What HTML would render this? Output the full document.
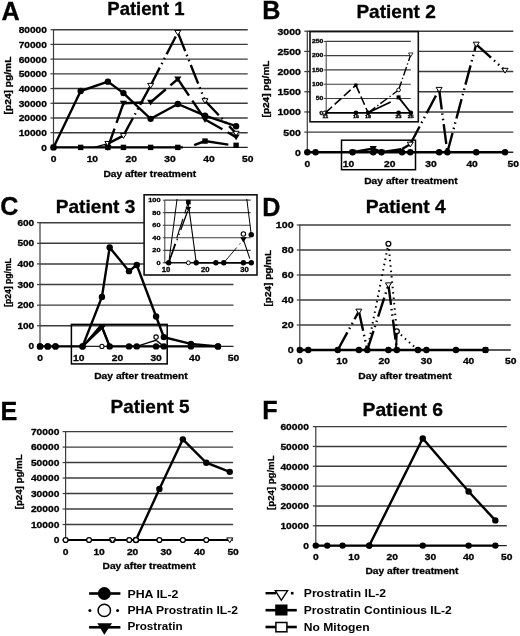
<!DOCTYPE html>
<html><head><meta charset="utf-8"><style>
html,body{margin:0;padding:0;background:#fff;}
svg{display:block;font-family:"Liberation Sans", sans-serif;font-weight:bold;will-change:transform;}
text{stroke:#000;stroke-width:0.3px;}
text.lg{stroke:none;}
</style></head><body>
<svg width="520" height="636" viewBox="0 0 520 636">
<rect width="520" height="636" fill="#fff"/>
<text x="1.6" y="19.6" font-size="25.2" text-anchor="start">A</text>
<text x="262.2" y="18.5" font-size="25.2" text-anchor="start">B</text>
<text x="0.3" y="215" font-size="25.2" text-anchor="start">C</text>
<text x="262.2" y="215.5" font-size="25.2" text-anchor="start">D</text>
<text x="0.6" y="419.6" font-size="25.2" text-anchor="start">E</text>
<text x="262.2" y="418.8" font-size="25.2" text-anchor="start">F</text>
<text x="107.3" y="15.4" font-size="18.2" text-anchor="start" textLength="77.2" lengthAdjust="spacingAndGlyphs">Patient 1</text>
<text x="356.4" y="18" font-size="18.2" text-anchor="start" textLength="79.4" lengthAdjust="spacingAndGlyphs">Patient 2</text>
<text x="55.8" y="212.7" font-size="18.2" text-anchor="start" textLength="79.5" lengthAdjust="spacingAndGlyphs">Patient 3</text>
<text x="365.7" y="213" font-size="18.2" text-anchor="start" textLength="80.1" lengthAdjust="spacingAndGlyphs">Patient 4</text>
<text x="110.6" y="413" font-size="18.2" text-anchor="start" textLength="79" lengthAdjust="spacingAndGlyphs">Patient 5</text>
<text x="362.5" y="416" font-size="18.2" text-anchor="start" textLength="80.5" lengthAdjust="spacingAndGlyphs">Patient 6</text>
<line x1="50.5" y1="147.4" x2="53.5" y2="147.4" stroke="#3c3c3c" stroke-width="1.2"/>
<text transform="translate(46.9 150.8) scale(1.07 1)" font-size="9.5" text-anchor="end">0</text>
<line x1="53.5" y1="132.69" x2="247.75" y2="132.69" stroke="#3c3c3c" stroke-width="1.4"/>
<line x1="50.5" y1="132.69" x2="53.5" y2="132.69" stroke="#3c3c3c" stroke-width="1.2"/>
<text transform="translate(46.9 136.09) scale(1.07 1)" font-size="9.5" text-anchor="end">10000</text>
<line x1="53.5" y1="117.98" x2="247.75" y2="117.98" stroke="#3c3c3c" stroke-width="1.4"/>
<line x1="50.5" y1="117.98" x2="53.5" y2="117.98" stroke="#3c3c3c" stroke-width="1.2"/>
<text transform="translate(46.9 121.38) scale(1.07 1)" font-size="9.5" text-anchor="end">20000</text>
<line x1="53.5" y1="103.26" x2="247.75" y2="103.26" stroke="#3c3c3c" stroke-width="1.4"/>
<line x1="50.5" y1="103.26" x2="53.5" y2="103.26" stroke="#3c3c3c" stroke-width="1.2"/>
<text transform="translate(46.9 106.66) scale(1.07 1)" font-size="9.5" text-anchor="end">30000</text>
<line x1="53.5" y1="88.55" x2="247.75" y2="88.55" stroke="#3c3c3c" stroke-width="1.4"/>
<line x1="50.5" y1="88.55" x2="53.5" y2="88.55" stroke="#3c3c3c" stroke-width="1.2"/>
<text transform="translate(46.9 91.95) scale(1.07 1)" font-size="9.5" text-anchor="end">40000</text>
<line x1="53.5" y1="73.84" x2="247.75" y2="73.84" stroke="#3c3c3c" stroke-width="1.4"/>
<line x1="50.5" y1="73.84" x2="53.5" y2="73.84" stroke="#3c3c3c" stroke-width="1.2"/>
<text transform="translate(46.9 77.24) scale(1.07 1)" font-size="9.5" text-anchor="end">50000</text>
<line x1="53.5" y1="59.12" x2="247.75" y2="59.12" stroke="#3c3c3c" stroke-width="1.4"/>
<line x1="50.5" y1="59.12" x2="53.5" y2="59.12" stroke="#3c3c3c" stroke-width="1.2"/>
<text transform="translate(46.9 62.53) scale(1.07 1)" font-size="9.5" text-anchor="end">60000</text>
<line x1="53.5" y1="44.41" x2="247.75" y2="44.41" stroke="#3c3c3c" stroke-width="1.4"/>
<line x1="50.5" y1="44.41" x2="53.5" y2="44.41" stroke="#3c3c3c" stroke-width="1.2"/>
<text transform="translate(46.9 47.81) scale(1.07 1)" font-size="9.5" text-anchor="end">70000</text>
<line x1="53.5" y1="29.7" x2="247.75" y2="29.7" stroke="#3c3c3c" stroke-width="1.4"/>
<line x1="50.5" y1="29.7" x2="53.5" y2="29.7" stroke="#3c3c3c" stroke-width="1.2"/>
<text transform="translate(46.9 33.1) scale(1.07 1)" font-size="9.5" text-anchor="end">80000</text>
<line x1="53.5" y1="29.2" x2="53.5" y2="147.4" stroke="#3c3c3c" stroke-width="1.2"/>
<line x1="53.5" y1="147.4" x2="247.75" y2="147.4" stroke="#222" stroke-width="1.4"/>
<text transform="translate(53.5 162.4) scale(1.12 1)" font-size="9.2" text-anchor="middle">0</text>
<text transform="translate(92.35 162.4) scale(1.12 1)" font-size="9.2" text-anchor="middle">10</text>
<text transform="translate(131.2 162.4) scale(1.12 1)" font-size="9.2" text-anchor="middle">20</text>
<text transform="translate(170.05 162.4) scale(1.12 1)" font-size="9.2" text-anchor="middle">30</text>
<text transform="translate(208.9 162.4) scale(1.12 1)" font-size="9.2" text-anchor="middle">40</text>
<text transform="translate(247.75 162.4) scale(1.12 1)" font-size="9.2" text-anchor="middle">50</text>
<text transform="translate(10.8 85.5) rotate(-90)" font-size="8.9" text-anchor="middle" textLength="57.8" lengthAdjust="spacingAndGlyphs">[p24] pg/mL</text>
<text x="103.4" y="177" font-size="9.6" text-anchor="start" textLength="92.8" lengthAdjust="spacingAndGlyphs">Day after treatment</text>
<polyline points="53.5,147.4 80.69,147.4 107.89,147.4 123.43,147.4 150.62,147.4 177.82,147.4 182.87,147.4" fill="none" stroke="#000" stroke-width="2.4" stroke-linejoin="miter"/>
<rect x="50.8" y="144.7" width="5.4" height="5.4" fill="#000"/>
<rect x="77.99" y="144.7" width="5.4" height="5.4" fill="#000"/>
<rect x="105.19" y="144.7" width="5.4" height="5.4" fill="#000"/>
<rect x="120.73" y="144.7" width="5.4" height="5.4" fill="#000"/>
<rect x="147.93" y="144.7" width="5.4" height="5.4" fill="#000"/>
<rect x="175.12" y="144.7" width="5.4" height="5.4" fill="#000"/>
<polyline points="194.14,145.19 205.01,141.07 228.32,144.6" fill="none" stroke="#000" stroke-width="2.4" stroke-linejoin="miter"/>
<rect x="202.31" y="138.37" width="5.4" height="5.4" fill="#000"/>
<rect x="233.4" y="142.64" width="5.4" height="5.4" fill="#000"/>
<polyline points="53.5,147.4 80.69,91.05 107.89,81.64 123.43,93.11 150.62,118.86 177.82,104 205.01,115.62 236.09,126.21" fill="none" stroke="#000" stroke-width="2.4" stroke-linejoin="miter"/>
<circle cx="53.5" cy="147.4" r="3.2" fill="#000"/>
<circle cx="80.69" cy="91.05" r="3.2" fill="#000"/>
<circle cx="107.89" cy="81.64" r="3.2" fill="#000"/>
<circle cx="123.43" cy="93.11" r="3.2" fill="#000"/>
<circle cx="150.62" cy="118.86" r="3.2" fill="#000"/>
<circle cx="177.82" cy="104" r="3.2" fill="#000"/>
<circle cx="205.01" cy="115.62" r="3.2" fill="#000"/>
<circle cx="236.09" cy="126.21" r="3.2" fill="#000"/>
<line x1="94.29" y1="147.4" x2="107.89" y2="143.57" stroke="#000" stroke-width="1.2"/>
<polyline points="107.89,143.57 123.43,135.63" fill="none" stroke="#000" stroke-width="2.4" stroke-linejoin="miter" stroke-dasharray="20 4 1.5 4 1.5 4"/>
<polyline points="123.43,135.63 150.62,85.46" fill="none" stroke="#000" stroke-width="2.4" stroke-linejoin="miter" stroke-dasharray="20 4 1.5 4 1.5 4"/>
<polyline points="150.62,85.46 177.82,32.5" fill="none" stroke="#000" stroke-width="2.4" stroke-linejoin="miter" stroke-dasharray="20 4 1.5 4 1.5 4"/>
<polyline points="177.82,32.5 205.01,100.76" fill="none" stroke="#000" stroke-width="2.4" stroke-linejoin="miter" stroke-dasharray="20 4 1.5 4 1.5 4"/>
<polyline points="205.01,100.76 236.09,133.42" fill="none" stroke="#000" stroke-width="2.4" stroke-linejoin="miter" stroke-dasharray="20 4 1.5 4 1.5 4"/>
<polygon points="104.89,141.47 110.89,141.47 107.89,146.27" fill="#fff" stroke="#000" stroke-width="1"/>
<polygon points="120.43,133.53 126.43,133.53 123.43,138.33" fill="#fff" stroke="#000" stroke-width="1"/>
<polygon points="147.62,83.36 153.62,83.36 150.62,88.16" fill="#fff" stroke="#000" stroke-width="1"/>
<polygon points="174.82,30.4 180.82,30.4 177.82,35.2" fill="#fff" stroke="#000" stroke-width="1"/>
<polygon points="202.01,98.66 208.01,98.66 205.01,103.46" fill="#fff" stroke="#000" stroke-width="1"/>
<polygon points="233.09,131.32 239.09,131.32 236.09,136.12" fill="#fff" stroke="#000" stroke-width="1"/>
<polyline points="107.89,147.4 123.43,103.26" fill="none" stroke="#000" stroke-width="2.4" stroke-linejoin="miter" stroke-dasharray="20 6"/>
<polyline points="123.43,103.26 150.62,102.23" fill="none" stroke="#000" stroke-width="2.4" stroke-linejoin="miter" stroke-dasharray="20 6"/>
<polyline points="150.62,102.23 177.82,78.99" fill="none" stroke="#000" stroke-width="2.4" stroke-linejoin="miter" stroke-dasharray="20 6"/>
<polyline points="177.82,78.99 205.01,119.45" fill="none" stroke="#000" stroke-width="2.4" stroke-linejoin="miter" stroke-dasharray="20 6"/>
<polyline points="205.01,119.45 236.09,137.1" fill="none" stroke="#000" stroke-width="2.4" stroke-linejoin="miter" stroke-dasharray="20 6"/>
<polygon points="104.29,144.88 111.49,144.88 107.89,150.64" fill="#000"/>
<polygon points="119.83,100.74 127.03,100.74 123.43,106.5" fill="#000"/>
<polygon points="147.03,99.71 154.22,99.71 150.62,105.47" fill="#000"/>
<polygon points="174.22,76.47 181.42,76.47 177.82,82.23" fill="#000"/>
<polygon points="201.41,116.93 208.61,116.93 205.01,122.69" fill="#000"/>
<polygon points="232.5,134.58 239.69,134.58 236.09,140.34" fill="#000"/>
<line x1="304.3" y1="152.3" x2="307.3" y2="152.3" stroke="#3c3c3c" stroke-width="1.2"/>
<text transform="translate(300.9 155.7) scale(1.11 1)" font-size="9.5" text-anchor="end">0</text>
<line x1="307.3" y1="132.12" x2="513.3" y2="132.12" stroke="#3c3c3c" stroke-width="1.4"/>
<line x1="304.3" y1="132.12" x2="307.3" y2="132.12" stroke="#3c3c3c" stroke-width="1.2"/>
<text transform="translate(300.9 135.52) scale(1.11 1)" font-size="9.5" text-anchor="end">500</text>
<line x1="307.3" y1="111.93" x2="513.3" y2="111.93" stroke="#3c3c3c" stroke-width="1.4"/>
<line x1="304.3" y1="111.93" x2="307.3" y2="111.93" stroke="#3c3c3c" stroke-width="1.2"/>
<text transform="translate(300.9 115.33) scale(1.11 1)" font-size="9.5" text-anchor="end">1000</text>
<line x1="307.3" y1="91.75" x2="513.3" y2="91.75" stroke="#3c3c3c" stroke-width="1.4"/>
<line x1="304.3" y1="91.75" x2="307.3" y2="91.75" stroke="#3c3c3c" stroke-width="1.2"/>
<text transform="translate(300.9 95.15) scale(1.11 1)" font-size="9.5" text-anchor="end">1500</text>
<line x1="307.3" y1="71.57" x2="513.3" y2="71.57" stroke="#3c3c3c" stroke-width="1.4"/>
<line x1="304.3" y1="71.57" x2="307.3" y2="71.57" stroke="#3c3c3c" stroke-width="1.2"/>
<text transform="translate(300.9 74.97) scale(1.11 1)" font-size="9.5" text-anchor="end">2000</text>
<line x1="307.3" y1="51.38" x2="513.3" y2="51.38" stroke="#3c3c3c" stroke-width="1.4"/>
<line x1="304.3" y1="51.38" x2="307.3" y2="51.38" stroke="#3c3c3c" stroke-width="1.2"/>
<text transform="translate(300.9 54.78) scale(1.11 1)" font-size="9.5" text-anchor="end">2500</text>
<line x1="307.3" y1="31.2" x2="513.3" y2="31.2" stroke="#3c3c3c" stroke-width="1.4"/>
<line x1="304.3" y1="31.2" x2="307.3" y2="31.2" stroke="#3c3c3c" stroke-width="1.2"/>
<text transform="translate(300.9 34.6) scale(1.11 1)" font-size="9.5" text-anchor="end">3000</text>
<line x1="307.3" y1="30.7" x2="307.3" y2="152.3" stroke="#3c3c3c" stroke-width="1.2"/>
<line x1="307.3" y1="152.3" x2="513.3" y2="152.3" stroke="#222" stroke-width="1.4"/>
<text transform="translate(307.3 167.3) scale(1.12 1)" font-size="9.2" text-anchor="middle">0</text>
<text transform="translate(348.5 167.3) scale(1.12 1)" font-size="9.2" text-anchor="middle">10</text>
<text transform="translate(389.7 167.3) scale(1.12 1)" font-size="9.2" text-anchor="middle">20</text>
<text transform="translate(430.9 167.3) scale(1.12 1)" font-size="9.2" text-anchor="middle">30</text>
<text transform="translate(472.1 167.3) scale(1.12 1)" font-size="9.2" text-anchor="middle">40</text>
<text transform="translate(513.3 167.3) scale(1.12 1)" font-size="9.2" text-anchor="middle">50</text>
<text transform="translate(269.1 89) rotate(-90)" font-size="8.9" text-anchor="middle" textLength="56.9" lengthAdjust="spacingAndGlyphs">[p24] pg/mL</text>
<text x="364.2" y="184" font-size="9.6" text-anchor="start" textLength="93.6" lengthAdjust="spacingAndGlyphs">Day after treatment</text>
<polyline points="307.3,152.3 315.54,152.3 352.62,152.3 373.22,152.3 381.46,152.3 402.06,152.3 410.3,152.3 439.14,152.3 447.38,152.3 476.22,152.3 505.06,152.3" fill="none" stroke="#000" stroke-width="2.4" stroke-linejoin="miter"/>
<circle cx="307.3" cy="152.3" r="3.2" fill="#000"/>
<circle cx="315.54" cy="152.3" r="3.2" fill="#000"/>
<circle cx="352.62" cy="152.3" r="3.2" fill="#000"/>
<circle cx="373.22" cy="152.3" r="3.2" fill="#000"/>
<circle cx="381.46" cy="152.3" r="3.2" fill="#000"/>
<circle cx="402.06" cy="152.3" r="3.2" fill="#000"/>
<circle cx="410.3" cy="152.3" r="3.2" fill="#000"/>
<circle cx="439.14" cy="152.3" r="3.2" fill="#000"/>
<circle cx="447.38" cy="152.3" r="3.2" fill="#000"/>
<circle cx="476.22" cy="152.3" r="3.2" fill="#000"/>
<circle cx="505.06" cy="152.3" r="3.2" fill="#000"/>
<polyline points="352.62,152.3 373.22,148.47 381.46,152.3" fill="none" stroke="#000" stroke-width="2.4" stroke-linejoin="miter"/>
<polygon points="349.02,149.78 356.22,149.78 352.62,155.54" fill="#000"/>
<polygon points="369.62,145.95 376.82,145.95 373.22,151.71" fill="#000"/>
<polygon points="377.86,149.78 385.06,149.78 381.46,155.54" fill="#000"/>
<polyline points="381.46,152.3 402.06,149.07" fill="none" stroke="#000" stroke-width="2.4" stroke-linejoin="miter" stroke-dasharray="20 4 1.5 4 1.5 4"/>
<polyline points="402.06,149.07 410.3,144.23" fill="none" stroke="#000" stroke-width="2.4" stroke-linejoin="miter" stroke-dasharray="20 4 1.5 4 1.5 4"/>
<polyline points="410.3,144.23 439.14,89.49" fill="none" stroke="#000" stroke-width="2.4" stroke-linejoin="miter" stroke-dasharray="20 4 1.5 4 1.5 4"/>
<polyline points="439.14,89.49 447.38,152.3" fill="none" stroke="#000" stroke-width="2.4" stroke-linejoin="miter" stroke-dasharray="20 4 1.5 4 1.5 4"/>
<polyline points="447.38,152.3 476.22,44.28" fill="none" stroke="#000" stroke-width="2.4" stroke-linejoin="miter" stroke-dasharray="20 4 1.5 4 1.5 4"/>
<polyline points="476.22,44.28 505.06,70.4" fill="none" stroke="#000" stroke-width="2.4" stroke-linejoin="miter" stroke-dasharray="20 4 1.5 4 1.5 4"/>
<polygon points="407.3,142.13 413.3,142.13 410.3,146.93" fill="#fff" stroke="#000" stroke-width="1"/>
<polygon points="436.14,87.39 442.14,87.39 439.14,92.19" fill="#fff" stroke="#000" stroke-width="1"/>
<polygon points="473.22,42.18 479.22,42.18 476.22,46.98" fill="#fff" stroke="#000" stroke-width="1"/>
<polygon points="502.06,68.3 508.06,68.3 505.06,73.1" fill="#fff" stroke="#000" stroke-width="1"/>
<rect x="341.5" y="140.2" width="74" height="29.5" fill="none" stroke="#000" stroke-width="1.5"/>
<rect x="310" y="31.6" width="108.3" height="90.2" fill="#fff" stroke="#111" stroke-width="1.6"/>
<line x1="323.8" y1="112.8" x2="326.2" y2="112.8" stroke="#3c3c3c" stroke-width="1"/>
<text transform="translate(323.2 114.5) scale(1.4 1)" font-size="4.8" text-anchor="end">0</text>
<line x1="326.2" y1="98.52" x2="410.8" y2="98.52" stroke="#3c3c3c" stroke-width="1.2"/>
<line x1="323.8" y1="98.52" x2="326.2" y2="98.52" stroke="#3c3c3c" stroke-width="1"/>
<text transform="translate(323.2 100.22) scale(1.4 1)" font-size="4.8" text-anchor="end">50</text>
<line x1="326.2" y1="84.24" x2="410.8" y2="84.24" stroke="#3c3c3c" stroke-width="1.2"/>
<line x1="323.8" y1="84.24" x2="326.2" y2="84.24" stroke="#3c3c3c" stroke-width="1"/>
<text transform="translate(323.2 85.94) scale(1.4 1)" font-size="4.8" text-anchor="end">100</text>
<line x1="326.2" y1="69.96" x2="410.8" y2="69.96" stroke="#3c3c3c" stroke-width="1.2"/>
<line x1="323.8" y1="69.96" x2="326.2" y2="69.96" stroke="#3c3c3c" stroke-width="1"/>
<text transform="translate(323.2 71.66) scale(1.4 1)" font-size="4.8" text-anchor="end">150</text>
<line x1="326.2" y1="55.68" x2="410.8" y2="55.68" stroke="#3c3c3c" stroke-width="1.2"/>
<line x1="323.8" y1="55.68" x2="326.2" y2="55.68" stroke="#3c3c3c" stroke-width="1"/>
<text transform="translate(323.2 57.38) scale(1.4 1)" font-size="4.8" text-anchor="end">200</text>
<line x1="326.2" y1="41.4" x2="410.8" y2="41.4" stroke="#3c3c3c" stroke-width="1.2"/>
<line x1="323.8" y1="41.4" x2="326.2" y2="41.4" stroke="#3c3c3c" stroke-width="1"/>
<text transform="translate(323.2 43.1) scale(1.4 1)" font-size="4.8" text-anchor="end">250</text>
<line x1="326.2" y1="41.4" x2="326.2" y2="112.8" stroke="#3c3c3c" stroke-width="1"/>
<line x1="326.2" y1="112.8" x2="410.8" y2="112.8" stroke="#111" stroke-width="1.5"/>
<text transform="translate(325.4 118.4) scale(1.5 1)" font-size="3.6" text-anchor="middle">11</text>
<text transform="translate(355.9 118.4) scale(1.5 1)" font-size="3.6" text-anchor="middle">16</text>
<text transform="translate(368.1 118.4) scale(1.5 1)" font-size="3.6" text-anchor="middle">18</text>
<text transform="translate(398.6 118.4) scale(1.5 1)" font-size="3.6" text-anchor="middle">23</text>
<text transform="translate(410.8 118.4) scale(1.5 1)" font-size="3.6" text-anchor="middle">25</text>
<polyline points="325.4,112.8 355.9,85.1" fill="none" stroke="#000" stroke-width="1.6" stroke-linejoin="miter" stroke-dasharray="9 3.5"/>
<polyline points="355.9,85.1 368.1,112.8" fill="none" stroke="#000" stroke-width="1.6" stroke-linejoin="miter" stroke-dasharray="9 3.5"/>
<polyline points="368.1,112.8 390.67,101.95" fill="none" stroke="#000" stroke-width="1.8" stroke-linejoin="miter"/>
<polyline points="368.1,112.8 398.6,89.95" fill="none" stroke="#000" stroke-width="1.4" stroke-linejoin="miter" stroke-dasharray="9 2.5 1.3 2.5"/>
<polyline points="398.6,89.95 410.8,54.54" fill="none" stroke="#000" stroke-width="1.4" stroke-linejoin="miter" stroke-dasharray="9 2.5 1.3 2.5"/>
<polyline points="398.6,97.38 410.8,112.8" fill="none" stroke="#000" stroke-width="1.8" stroke-linejoin="miter"/>
<polyline points="325.4,112.8 355.9,112.8 368.1,112.8 398.6,112.8 410.8,112.8" fill="none" stroke="#000" stroke-width="1.5" stroke-linejoin="miter"/>
<circle cx="325.4" cy="112.8" r="2.4" fill="#000"/>
<circle cx="355.9" cy="112.8" r="2.4" fill="#000"/>
<circle cx="368.1" cy="112.8" r="2.4" fill="#000"/>
<circle cx="398.6" cy="112.8" r="2.4" fill="#000"/>
<circle cx="410.8" cy="112.8" r="2.4" fill="#000"/>
<rect x="396.57" y="95.35" width="4.05" height="4.05" fill="#000"/>
<circle cx="355.9" cy="85.1" r="1.92" fill="#000"/>
<circle cx="398.6" cy="89.95" r="1.84" fill="#fff" stroke="#000" stroke-width="0.94"/>
<polygon points="408.55,52.96 413.05,52.96 410.8,56.56" fill="#fff" stroke="#000" stroke-width="0.75"/>
<circle cx="324.2" cy="112.8" r="1.47" fill="#fff" stroke="#000" stroke-width="0.75"/>
<line x1="37" y1="346.4" x2="40" y2="346.4" stroke="#3c3c3c" stroke-width="1.2"/>
<text transform="translate(34.2 349.48) scale(1.17 1)" font-size="8.6" text-anchor="end">0</text>
<line x1="40" y1="325.78" x2="233.5" y2="325.78" stroke="#3c3c3c" stroke-width="1.4"/>
<line x1="37" y1="325.78" x2="40" y2="325.78" stroke="#3c3c3c" stroke-width="1.2"/>
<text transform="translate(34.2 328.86) scale(1.17 1)" font-size="8.6" text-anchor="end">100</text>
<line x1="40" y1="305.17" x2="233.5" y2="305.17" stroke="#3c3c3c" stroke-width="1.4"/>
<line x1="37" y1="305.17" x2="40" y2="305.17" stroke="#3c3c3c" stroke-width="1.2"/>
<text transform="translate(34.2 308.25) scale(1.17 1)" font-size="8.6" text-anchor="end">200</text>
<line x1="40" y1="284.55" x2="233.5" y2="284.55" stroke="#3c3c3c" stroke-width="1.4"/>
<line x1="37" y1="284.55" x2="40" y2="284.55" stroke="#3c3c3c" stroke-width="1.2"/>
<text transform="translate(34.2 287.63) scale(1.17 1)" font-size="8.6" text-anchor="end">300</text>
<line x1="40" y1="263.93" x2="233.5" y2="263.93" stroke="#3c3c3c" stroke-width="1.4"/>
<line x1="37" y1="263.93" x2="40" y2="263.93" stroke="#3c3c3c" stroke-width="1.2"/>
<text transform="translate(34.2 267.01) scale(1.17 1)" font-size="8.6" text-anchor="end">400</text>
<line x1="40" y1="243.32" x2="233.5" y2="243.32" stroke="#3c3c3c" stroke-width="1.4"/>
<line x1="37" y1="243.32" x2="40" y2="243.32" stroke="#3c3c3c" stroke-width="1.2"/>
<text transform="translate(34.2 246.4) scale(1.17 1)" font-size="8.6" text-anchor="end">500</text>
<line x1="40" y1="222.7" x2="233.5" y2="222.7" stroke="#3c3c3c" stroke-width="1.4"/>
<line x1="37" y1="222.7" x2="40" y2="222.7" stroke="#3c3c3c" stroke-width="1.2"/>
<text transform="translate(34.2 225.78) scale(1.17 1)" font-size="8.6" text-anchor="end">600</text>
<line x1="40" y1="222.2" x2="40" y2="346.4" stroke="#3c3c3c" stroke-width="1.2"/>
<line x1="40" y1="346.4" x2="233.5" y2="346.4" stroke="#222" stroke-width="1.4"/>
<text transform="translate(40 361.4) scale(1.12 1)" font-size="9.2" text-anchor="middle">0</text>
<text transform="translate(78.7 361.4) scale(1.12 1)" font-size="9.2" text-anchor="middle">10</text>
<text transform="translate(117.4 361.4) scale(1.12 1)" font-size="9.2" text-anchor="middle">20</text>
<text transform="translate(156.1 361.4) scale(1.12 1)" font-size="9.2" text-anchor="middle">30</text>
<text transform="translate(194.8 361.4) scale(1.12 1)" font-size="9.2" text-anchor="middle">40</text>
<text transform="translate(233.5 361.4) scale(1.12 1)" font-size="9.2" text-anchor="middle">50</text>
<text transform="translate(11 282.5) rotate(-90)" font-size="8.3" text-anchor="middle" textLength="48.7" lengthAdjust="spacingAndGlyphs">[p24] pg/mL</text>
<text x="94.2" y="378.6" font-size="9.6" text-anchor="start" textLength="93.6" lengthAdjust="spacingAndGlyphs">Day after treatment</text>
<polyline points="40,346.4 47.74,346.4 55.48,346.4 82.57,346.4 101.92,296.92 109.66,247.44 129.01,271.15 136.75,264.96 156.1,316.51 163.84,337.12 190.93,343.93 218.02,346.4" fill="none" stroke="#000" stroke-width="2.4" stroke-linejoin="miter"/>
<circle cx="40" cy="346.4" r="3.2" fill="#000"/>
<circle cx="47.74" cy="346.4" r="3.2" fill="#000"/>
<circle cx="55.48" cy="346.4" r="3.2" fill="#000"/>
<circle cx="82.57" cy="346.4" r="3.2" fill="#000"/>
<circle cx="101.92" cy="296.92" r="3.2" fill="#000"/>
<circle cx="109.66" cy="247.44" r="3.2" fill="#000"/>
<circle cx="129.01" cy="271.15" r="3.2" fill="#000"/>
<circle cx="136.75" cy="264.96" r="3.2" fill="#000"/>
<circle cx="156.1" cy="316.51" r="3.2" fill="#000"/>
<circle cx="163.84" cy="337.12" r="3.2" fill="#000"/>
<circle cx="190.93" cy="343.93" r="3.2" fill="#000"/>
<circle cx="218.02" cy="346.4" r="3.2" fill="#000"/>
<polyline points="82.57,346.4 101.92,326.81 109.66,346.4 129.01,346.4 136.75,346.4 156.1,346.4 163.84,346.4 190.93,346.4 218.02,346.4" fill="none" stroke="#000" stroke-width="2.3" stroke-linejoin="miter"/>
<polygon points="82.57,346.4 100.37,325.37 104.63,325.99" fill="#000" stroke="#000" stroke-width="1.5" stroke-linejoin="round"/>
<polyline points="101.92,326.81 109.66,346.4" fill="none" stroke="#000" stroke-width="2.2" stroke-linejoin="miter"/>
<polyline points="136.75,346.4 148.36,342.69 156.1,340.21" fill="none" stroke="#000" stroke-width="1.4" stroke-linejoin="miter"/>
<polyline points="156.1,340.21 163.84,346.4" fill="none" stroke="#000" stroke-width="1.4" stroke-linejoin="miter" stroke-dasharray="20 6"/>
<circle cx="40" cy="346.4" r="3.2" fill="#000"/>
<circle cx="47.74" cy="346.4" r="3.2" fill="#000"/>
<circle cx="55.48" cy="346.4" r="3.2" fill="#000"/>
<circle cx="82.57" cy="346.4" r="3.2" fill="#000"/>
<circle cx="109.66" cy="346.4" r="3.2" fill="#000"/>
<circle cx="129.01" cy="346.4" r="3.2" fill="#000"/>
<circle cx="136.75" cy="346.4" r="3.2" fill="#000"/>
<circle cx="156.1" cy="346.4" r="3.2" fill="#000"/>
<circle cx="163.84" cy="346.4" r="3.2" fill="#000"/>
<circle cx="190.93" cy="346.4" r="3.2" fill="#000"/>
<circle cx="218.02" cy="346.4" r="3.2" fill="#000"/>
<circle cx="101.92" cy="346.4" r="2.08" fill="#fff" stroke="#000" stroke-width="1.06"/>
<circle cx="156.1" cy="337.12" r="2.21" fill="#fff" stroke="#000" stroke-width="1.12"/>
<rect x="71.4" y="324.4" width="95.8" height="39.5" fill="none" stroke="#000" stroke-width="1.5"/>
<rect x="144.1" y="194.8" width="112.9" height="80.2" fill="#fff" stroke="#111" stroke-width="1.6"/>
<line x1="162.8" y1="262.8" x2="164.8" y2="262.8" stroke="#3c3c3c" stroke-width="1"/>
<text transform="translate(160.6 265) scale(1.2 1)" font-size="6.2" text-anchor="end">0</text>
<line x1="164.8" y1="250.28" x2="250.6" y2="250.28" stroke="#3c3c3c" stroke-width="1.2"/>
<line x1="162.8" y1="250.28" x2="164.8" y2="250.28" stroke="#3c3c3c" stroke-width="1"/>
<text transform="translate(160.6 252.48) scale(1.2 1)" font-size="6.2" text-anchor="end">20</text>
<line x1="164.8" y1="237.76" x2="250.6" y2="237.76" stroke="#3c3c3c" stroke-width="1.2"/>
<line x1="162.8" y1="237.76" x2="164.8" y2="237.76" stroke="#3c3c3c" stroke-width="1"/>
<text transform="translate(160.6 239.96) scale(1.2 1)" font-size="6.2" text-anchor="end">40</text>
<line x1="164.8" y1="225.24" x2="250.6" y2="225.24" stroke="#3c3c3c" stroke-width="1.2"/>
<line x1="162.8" y1="225.24" x2="164.8" y2="225.24" stroke="#3c3c3c" stroke-width="1"/>
<text transform="translate(160.6 227.44) scale(1.2 1)" font-size="6.2" text-anchor="end">60</text>
<line x1="164.8" y1="212.72" x2="250.6" y2="212.72" stroke="#3c3c3c" stroke-width="1.2"/>
<line x1="162.8" y1="212.72" x2="164.8" y2="212.72" stroke="#3c3c3c" stroke-width="1"/>
<text transform="translate(160.6 214.92) scale(1.2 1)" font-size="6.2" text-anchor="end">80</text>
<line x1="164.8" y1="200.2" x2="250.6" y2="200.2" stroke="#3c3c3c" stroke-width="1.2"/>
<line x1="162.8" y1="200.2" x2="164.8" y2="200.2" stroke="#3c3c3c" stroke-width="1"/>
<text transform="translate(160.6 202.4) scale(1.2 1)" font-size="6.2" text-anchor="end">100</text>
<line x1="164.8" y1="200.2" x2="164.8" y2="262.8" stroke="#3c3c3c" stroke-width="1"/>
<line x1="164.8" y1="262.8" x2="250.6" y2="262.8" stroke="#111" stroke-width="1.5"/>
<text transform="translate(166 272.3) scale(1.2 1)" font-size="6.4" text-anchor="middle">10</text>
<text transform="translate(205.3 272.3) scale(1.2 1)" font-size="6.4" text-anchor="middle">20</text>
<text transform="translate(244.6 272.3) scale(1.2 1)" font-size="6.4" text-anchor="middle">30</text>
<svg x="164" y="199.2" width="90" height="66" overflow="hidden" viewBox="164 199.2 90 66">
<polyline points="168.73,262.8 188.38,112.56" fill="none" stroke="#000" stroke-width="1" stroke-linejoin="miter"/>
<polyline points="243.4,172.03 251.26,234.63" fill="none" stroke="#000" stroke-width="1" stroke-linejoin="miter"/>
</svg>
<polyline points="168.73,262.8 188.38,202.08" fill="none" stroke="#000" stroke-width="1.1" stroke-linejoin="miter" stroke-dasharray="20 6"/>
<polyline points="168.73,262.8 188.38,208.96" fill="none" stroke="#000" stroke-width="1.3" stroke-linejoin="miter" stroke-dasharray="20 4 1.5 4 1.5 4"/>
<polyline points="188.38,203.96 196.24,262.8" fill="none" stroke="#000" stroke-width="1.1" stroke-linejoin="miter"/>
<polyline points="223.75,262.8 243.4,239.64" fill="none" stroke="#000" stroke-width="0.9" stroke-linejoin="miter" stroke-dasharray="20 4 1.5 4 1.5 4"/>
<polyline points="243.4,239.64 251.26,262.8" fill="none" stroke="#000" stroke-width="1.1" stroke-linejoin="miter" stroke-dasharray="20 6"/>
<polyline points="196.24,262.8 215.89,262.8 223.75,262.8 243.4,262.8 251.26,262.8" fill="none" stroke="#000" stroke-width="1.5" stroke-linejoin="miter"/>
<circle cx="196.24" cy="262.8" r="2.72" fill="#000"/>
<circle cx="215.89" cy="262.8" r="2.72" fill="#000"/>
<circle cx="223.75" cy="262.8" r="2.72" fill="#000"/>
<circle cx="243.4" cy="262.8" r="2.72" fill="#000"/>
<circle cx="251.26" cy="262.8" r="2.72" fill="#000"/>
<circle cx="168.73" cy="262.8" r="2.72" fill="#000"/>
<rect x="186.09" y="199.78" width="4.59" height="4.59" fill="#000"/>
<polygon points="185.5,206.95 191.26,206.95 188.38,211.56" fill="#000"/>
<circle cx="188.38" cy="262.8" r="1.96" fill="#fff" stroke="#000" stroke-width="1"/>
<circle cx="243.4" cy="234" r="2.21" fill="#fff" stroke="#000" stroke-width="1.12"/>
<polygon points="240.16,237.37 246.64,237.37 243.4,242.55" fill="#000"/>
<circle cx="251.26" cy="234.63" r="2.72" fill="#000"/>
<line x1="296.8" y1="350" x2="299.8" y2="350" stroke="#3c3c3c" stroke-width="1.2"/>
<text transform="translate(293.7 353.4) scale(1.13 1)" font-size="9.5" text-anchor="end">0</text>
<line x1="299.8" y1="325" x2="510.8" y2="325" stroke="#3c3c3c" stroke-width="1.4"/>
<line x1="296.8" y1="325" x2="299.8" y2="325" stroke="#3c3c3c" stroke-width="1.2"/>
<text transform="translate(293.7 328.4) scale(1.13 1)" font-size="9.5" text-anchor="end">20</text>
<line x1="299.8" y1="300" x2="510.8" y2="300" stroke="#3c3c3c" stroke-width="1.4"/>
<line x1="296.8" y1="300" x2="299.8" y2="300" stroke="#3c3c3c" stroke-width="1.2"/>
<text transform="translate(293.7 303.4) scale(1.13 1)" font-size="9.5" text-anchor="end">40</text>
<line x1="299.8" y1="275" x2="510.8" y2="275" stroke="#3c3c3c" stroke-width="1.4"/>
<line x1="296.8" y1="275" x2="299.8" y2="275" stroke="#3c3c3c" stroke-width="1.2"/>
<text transform="translate(293.7 278.4) scale(1.13 1)" font-size="9.5" text-anchor="end">60</text>
<line x1="299.8" y1="250" x2="510.8" y2="250" stroke="#3c3c3c" stroke-width="1.4"/>
<line x1="296.8" y1="250" x2="299.8" y2="250" stroke="#3c3c3c" stroke-width="1.2"/>
<text transform="translate(293.7 253.4) scale(1.13 1)" font-size="9.5" text-anchor="end">80</text>
<line x1="299.8" y1="225" x2="510.8" y2="225" stroke="#3c3c3c" stroke-width="1.4"/>
<line x1="296.8" y1="225" x2="299.8" y2="225" stroke="#3c3c3c" stroke-width="1.2"/>
<text transform="translate(293.7 228.4) scale(1.13 1)" font-size="9.5" text-anchor="end">100</text>
<line x1="299.8" y1="224.5" x2="299.8" y2="350" stroke="#3c3c3c" stroke-width="1.2"/>
<line x1="299.8" y1="350" x2="510.8" y2="350" stroke="#222" stroke-width="1.4"/>
<text transform="translate(299.8 364.4) scale(1.12 1)" font-size="9.2" text-anchor="middle">0</text>
<text transform="translate(342 364.4) scale(1.12 1)" font-size="9.2" text-anchor="middle">10</text>
<text transform="translate(384.2 364.4) scale(1.12 1)" font-size="9.2" text-anchor="middle">20</text>
<text transform="translate(426.4 364.4) scale(1.12 1)" font-size="9.2" text-anchor="middle">30</text>
<text transform="translate(468.6 364.4) scale(1.12 1)" font-size="9.2" text-anchor="middle">40</text>
<text transform="translate(510.8 364.4) scale(1.12 1)" font-size="9.2" text-anchor="middle">50</text>
<text transform="translate(270.8 278.2) rotate(-90)" font-size="8.7" text-anchor="middle" textLength="56.6" lengthAdjust="spacingAndGlyphs">[p24] pg/mL</text>
<text x="358.3" y="378.6" font-size="9.6" text-anchor="start" textLength="93.5" lengthAdjust="spacingAndGlyphs">Day after treatment</text>
<polyline points="299.8,350 308.24,350 337.78,350 358.88,350 367.32,350 388.42,350 396.86,350 417.96,350 426.4,350 455.94,350 485.48,350" fill="none" stroke="#000" stroke-width="2.4" stroke-linejoin="miter"/>
<circle cx="299.8" cy="350" r="3.2" fill="#000"/>
<circle cx="308.24" cy="350" r="3.2" fill="#000"/>
<circle cx="337.78" cy="350" r="3.2" fill="#000"/>
<circle cx="358.88" cy="350" r="3.2" fill="#000"/>
<circle cx="367.32" cy="350" r="3.2" fill="#000"/>
<circle cx="388.42" cy="350" r="3.2" fill="#000"/>
<circle cx="396.86" cy="350" r="3.2" fill="#000"/>
<circle cx="417.96" cy="350" r="3.2" fill="#000"/>
<circle cx="426.4" cy="350" r="3.2" fill="#000"/>
<circle cx="455.94" cy="350" r="3.2" fill="#000"/>
<circle cx="485.48" cy="350" r="3.2" fill="#000"/>
<polyline points="367.32,350 388.42,243.75" fill="none" stroke="#000" stroke-width="2" stroke-linejoin="miter" stroke-dasharray="1.5 3.9"/>
<polyline points="388.42,243.75 396.86,331.25" fill="none" stroke="#000" stroke-width="2" stroke-linejoin="miter" stroke-dasharray="1.5 3.9"/>
<polyline points="396.86,331.25 417.96,350" fill="none" stroke="#000" stroke-width="2" stroke-linejoin="miter" stroke-dasharray="1.5 3.9"/>
<polyline points="337.78,350 358.88,311.25" fill="none" stroke="#000" stroke-width="2.4" stroke-linejoin="miter" stroke-dasharray="20 4 1.5 4 1.5 4"/>
<polyline points="358.88,311.25 367.32,350" fill="none" stroke="#000" stroke-width="2.4" stroke-linejoin="miter" stroke-dasharray="20 4 1.5 4 1.5 4"/>
<polyline points="367.32,350 388.42,285" fill="none" stroke="#000" stroke-width="2.4" stroke-linejoin="miter" stroke-dasharray="20 4 1.5 4 1.5 4"/>
<polyline points="388.42,285 396.86,350" fill="none" stroke="#000" stroke-width="2.4" stroke-linejoin="miter" stroke-dasharray="20 4 1.5 4 1.5 4"/>
<line x1="396.86" y1="331.25" x2="396.02" y2="350" stroke="#000" stroke-width="2"/>
<polygon points="355.88,309.15 361.88,309.15 358.88,313.95" fill="#fff" stroke="#000" stroke-width="1"/>
<polygon points="385.42,282.9 391.42,282.9 388.42,287.7" fill="#fff" stroke="#000" stroke-width="1"/>
<circle cx="388.42" cy="243.75" r="2.45" fill="#fff" stroke="#000" stroke-width="1.25"/>
<circle cx="396.86" cy="331.25" r="2.45" fill="#fff" stroke="#000" stroke-width="1.25"/>
<rect x="482.78" y="347.3" width="5.4" height="5.4" fill="#000"/>
<line x1="62.6" y1="540" x2="65.6" y2="540" stroke="#3c3c3c" stroke-width="1.2"/>
<text transform="translate(59.4 543.4) scale(1.08 1)" font-size="9.5" text-anchor="end">0</text>
<line x1="65.6" y1="524.51" x2="233.1" y2="524.51" stroke="#3c3c3c" stroke-width="1.4"/>
<line x1="62.6" y1="524.51" x2="65.6" y2="524.51" stroke="#3c3c3c" stroke-width="1.2"/>
<text transform="translate(59.4 527.92) scale(1.08 1)" font-size="9.5" text-anchor="end">10000</text>
<line x1="65.6" y1="509.03" x2="233.1" y2="509.03" stroke="#3c3c3c" stroke-width="1.4"/>
<line x1="62.6" y1="509.03" x2="65.6" y2="509.03" stroke="#3c3c3c" stroke-width="1.2"/>
<text transform="translate(59.4 512.43) scale(1.08 1)" font-size="9.5" text-anchor="end">20000</text>
<line x1="65.6" y1="493.54" x2="233.1" y2="493.54" stroke="#3c3c3c" stroke-width="1.4"/>
<line x1="62.6" y1="493.54" x2="65.6" y2="493.54" stroke="#3c3c3c" stroke-width="1.2"/>
<text transform="translate(59.4 496.94) scale(1.08 1)" font-size="9.5" text-anchor="end">30000</text>
<line x1="65.6" y1="478.06" x2="233.1" y2="478.06" stroke="#3c3c3c" stroke-width="1.4"/>
<line x1="62.6" y1="478.06" x2="65.6" y2="478.06" stroke="#3c3c3c" stroke-width="1.2"/>
<text transform="translate(59.4 481.46) scale(1.08 1)" font-size="9.5" text-anchor="end">40000</text>
<line x1="65.6" y1="462.57" x2="233.1" y2="462.57" stroke="#3c3c3c" stroke-width="1.4"/>
<line x1="62.6" y1="462.57" x2="65.6" y2="462.57" stroke="#3c3c3c" stroke-width="1.2"/>
<text transform="translate(59.4 465.97) scale(1.08 1)" font-size="9.5" text-anchor="end">50000</text>
<line x1="65.6" y1="447.09" x2="233.1" y2="447.09" stroke="#3c3c3c" stroke-width="1.4"/>
<line x1="62.6" y1="447.09" x2="65.6" y2="447.09" stroke="#3c3c3c" stroke-width="1.2"/>
<text transform="translate(59.4 450.49) scale(1.08 1)" font-size="9.5" text-anchor="end">60000</text>
<line x1="65.6" y1="431.6" x2="233.1" y2="431.6" stroke="#3c3c3c" stroke-width="1.4"/>
<line x1="62.6" y1="431.6" x2="65.6" y2="431.6" stroke="#3c3c3c" stroke-width="1.2"/>
<text transform="translate(59.4 435) scale(1.08 1)" font-size="9.5" text-anchor="end">70000</text>
<line x1="65.6" y1="431.1" x2="65.6" y2="540" stroke="#3c3c3c" stroke-width="1.2"/>
<line x1="65.6" y1="540" x2="233.1" y2="540" stroke="#222" stroke-width="1.4"/>
<text transform="translate(65.6 555) scale(1.12 1)" font-size="9.2" text-anchor="middle">0</text>
<text transform="translate(99.1 555) scale(1.12 1)" font-size="9.2" text-anchor="middle">10</text>
<text transform="translate(132.6 555) scale(1.12 1)" font-size="9.2" text-anchor="middle">20</text>
<text transform="translate(166.1 555) scale(1.12 1)" font-size="9.2" text-anchor="middle">30</text>
<text transform="translate(199.6 555) scale(1.12 1)" font-size="9.2" text-anchor="middle">40</text>
<text transform="translate(233.1 555) scale(1.12 1)" font-size="9.2" text-anchor="middle">50</text>
<text transform="translate(21.7 481.9) rotate(-90)" font-size="8.7" text-anchor="middle" textLength="54.9" lengthAdjust="spacingAndGlyphs">[p24] pg/mL</text>
<text x="102.5" y="568.6" font-size="9.6" text-anchor="start" textLength="93.1" lengthAdjust="spacingAndGlyphs">Day after treatment</text>
<polyline points="65.6,540 135.95,540" fill="none" stroke="#000" stroke-width="1.8" stroke-linejoin="miter"/>
<polyline points="135.95,540 159.4,488.9 182.85,439.34 206.3,462.73 229.75,471.86" fill="none" stroke="#000" stroke-width="2.4" stroke-linejoin="miter"/>
<circle cx="135.95" cy="540" r="3.2" fill="#000"/>
<circle cx="159.4" cy="488.9" r="3.2" fill="#000"/>
<circle cx="182.85" cy="439.34" r="3.2" fill="#000"/>
<circle cx="206.3" cy="462.73" r="3.2" fill="#000"/>
<circle cx="229.75" cy="471.86" r="3.2" fill="#000"/>
<polyline points="135.95,540 229.75,540" fill="none" stroke="#000" stroke-width="1.8" stroke-linejoin="miter"/>
<circle cx="65.6" cy="540" r="2.45" fill="#fff" stroke="#000" stroke-width="1.25"/>
<circle cx="89.05" cy="540" r="2.45" fill="#fff" stroke="#000" stroke-width="1.25"/>
<circle cx="112.5" cy="540" r="2.45" fill="#fff" stroke="#000" stroke-width="1.25"/>
<circle cx="129.25" cy="540" r="2.45" fill="#fff" stroke="#000" stroke-width="1.25"/>
<circle cx="135.95" cy="540" r="2.45" fill="#fff" stroke="#000" stroke-width="1.25"/>
<circle cx="159.4" cy="540" r="2.45" fill="#fff" stroke="#000" stroke-width="1.25"/>
<circle cx="182.85" cy="540" r="2.45" fill="#fff" stroke="#000" stroke-width="1.25"/>
<circle cx="206.3" cy="540" r="2.45" fill="#fff" stroke="#000" stroke-width="1.25"/>
<polygon points="109.5,537.9 115.5,537.9 112.5,542.7" fill="#fff" stroke="#000" stroke-width="1"/>
<polygon points="226.75,537.9 232.75,537.9 229.75,542.7" fill="#fff" stroke="#000" stroke-width="1"/>
<line x1="312.8" y1="545.6" x2="315.8" y2="545.6" stroke="#3c3c3c" stroke-width="1.2"/>
<text transform="translate(308.9 549) scale(1.08 1)" font-size="9.5" text-anchor="end">0</text>
<line x1="315.8" y1="525.77" x2="506.8" y2="525.77" stroke="#3c3c3c" stroke-width="1.4"/>
<line x1="312.8" y1="525.77" x2="315.8" y2="525.77" stroke="#3c3c3c" stroke-width="1.2"/>
<text transform="translate(308.9 529.17) scale(1.08 1)" font-size="9.5" text-anchor="end">10000</text>
<line x1="315.8" y1="505.93" x2="506.8" y2="505.93" stroke="#3c3c3c" stroke-width="1.4"/>
<line x1="312.8" y1="505.93" x2="315.8" y2="505.93" stroke="#3c3c3c" stroke-width="1.2"/>
<text transform="translate(308.9 509.33) scale(1.08 1)" font-size="9.5" text-anchor="end">20000</text>
<line x1="315.8" y1="486.1" x2="506.8" y2="486.1" stroke="#3c3c3c" stroke-width="1.4"/>
<line x1="312.8" y1="486.1" x2="315.8" y2="486.1" stroke="#3c3c3c" stroke-width="1.2"/>
<text transform="translate(308.9 489.5) scale(1.08 1)" font-size="9.5" text-anchor="end">30000</text>
<line x1="315.8" y1="466.27" x2="506.8" y2="466.27" stroke="#3c3c3c" stroke-width="1.4"/>
<line x1="312.8" y1="466.27" x2="315.8" y2="466.27" stroke="#3c3c3c" stroke-width="1.2"/>
<text transform="translate(308.9 469.67) scale(1.08 1)" font-size="9.5" text-anchor="end">40000</text>
<line x1="315.8" y1="446.43" x2="506.8" y2="446.43" stroke="#3c3c3c" stroke-width="1.4"/>
<line x1="312.8" y1="446.43" x2="315.8" y2="446.43" stroke="#3c3c3c" stroke-width="1.2"/>
<text transform="translate(308.9 449.83) scale(1.08 1)" font-size="9.5" text-anchor="end">50000</text>
<line x1="315.8" y1="426.6" x2="506.8" y2="426.6" stroke="#3c3c3c" stroke-width="1.4"/>
<line x1="312.8" y1="426.6" x2="315.8" y2="426.6" stroke="#3c3c3c" stroke-width="1.2"/>
<text transform="translate(308.9 430) scale(1.08 1)" font-size="9.5" text-anchor="end">60000</text>
<line x1="315.8" y1="426.1" x2="315.8" y2="545.6" stroke="#3c3c3c" stroke-width="1.2"/>
<line x1="315.8" y1="545.6" x2="506.8" y2="545.6" stroke="#222" stroke-width="1.4"/>
<text transform="translate(315.8 559.8) scale(1.12 1)" font-size="9.2" text-anchor="middle">0</text>
<text transform="translate(354 559.8) scale(1.12 1)" font-size="9.2" text-anchor="middle">10</text>
<text transform="translate(392.2 559.8) scale(1.12 1)" font-size="9.2" text-anchor="middle">20</text>
<text transform="translate(430.4 559.8) scale(1.12 1)" font-size="9.2" text-anchor="middle">30</text>
<text transform="translate(468.6 559.8) scale(1.12 1)" font-size="9.2" text-anchor="middle">40</text>
<text transform="translate(506.8 559.8) scale(1.12 1)" font-size="9.2" text-anchor="middle">50</text>
<text transform="translate(273.7 482.7) rotate(-90)" font-size="8.9" text-anchor="middle" textLength="54.4" lengthAdjust="spacingAndGlyphs">[p24] pg/mL</text>
<text x="365.4" y="574" font-size="9.6" text-anchor="start" textLength="93.1" lengthAdjust="spacingAndGlyphs">Day after treatment</text>
<polyline points="315.8,545.6 327.26,545.6 342.54,545.6 369.28,545.6 422.76,438.5 468.6,491.46 495.34,520.41" fill="none" stroke="#000" stroke-width="2.4" stroke-linejoin="miter"/>
<circle cx="315.8" cy="545.6" r="3.2" fill="#000"/>
<circle cx="327.26" cy="545.6" r="3.2" fill="#000"/>
<circle cx="342.54" cy="545.6" r="3.2" fill="#000"/>
<circle cx="369.28" cy="545.6" r="3.2" fill="#000"/>
<circle cx="422.76" cy="438.5" r="3.2" fill="#000"/>
<circle cx="468.6" cy="491.46" r="3.2" fill="#000"/>
<circle cx="495.34" cy="520.41" r="3.2" fill="#000"/>
<polyline points="369.28,545.6 422.76,545.6 468.6,545.6 495.34,545.6" fill="none" stroke="#000" stroke-width="2.4" stroke-linejoin="miter"/>
<circle cx="369.28" cy="545.6" r="3.2" fill="#000"/>
<circle cx="422.76" cy="545.6" r="3.2" fill="#000"/>
<circle cx="468.6" cy="545.6" r="3.2" fill="#000"/>
<circle cx="495.34" cy="545.6" r="3.2" fill="#000"/>
<line x1="89.1" y1="593.5" x2="120.4" y2="593.5" stroke="#000" stroke-width="2.6"/>
<circle cx="104.3" cy="593.5" r="6.5" fill="#000"/>
<text x="127.4" y="597.6" font-size="11.2" text-anchor="start" textLength="51" lengthAdjust="spacingAndGlyphs" class="lg">PHA IL-2</text>
<circle cx="89.9" cy="610.4" r="1.5" fill="#000"/>
<circle cx="117.6" cy="610.4" r="1.5" fill="#000"/>
<circle cx="104.3" cy="610.4" r="6.2" fill="#fff" stroke="#000" stroke-width="1.5"/>
<text x="127.4" y="614.2" font-size="11.2" text-anchor="start" textLength="110.6" lengthAdjust="spacingAndGlyphs" class="lg">PHA Prostratin IL-2</text>
<line x1="89.1" y1="627.3" x2="120.4" y2="627.3" stroke="#000" stroke-width="2.6"/>
<polygon points="97.3,623.2 112.1,623.2 104.3,634.8" fill="#000"/>
<text x="127.4" y="630.2" font-size="11.2" text-anchor="start" textLength="55.2" lengthAdjust="spacingAndGlyphs" class="lg">Prostratin</text>
<line x1="265.5" y1="593.2" x2="276" y2="593.2" stroke="#000" stroke-width="2.4"/>
<polygon points="275.3,590.6 287.6,590.6 281.3,600.3" fill="#fff" stroke="#000" stroke-width="1.4" stroke-linejoin="miter"/>
<rect x="290.9" y="591.9" width="2.6" height="2.6" fill="#000"/>
<text x="303.8" y="597.4" font-size="11.2" text-anchor="start" textLength="82.3" lengthAdjust="spacingAndGlyphs" class="lg">Prostratin IL-2</text>
<line x1="265.5" y1="610.2" x2="296.8" y2="610.2" stroke="#000" stroke-width="2.6"/>
<rect x="275.2" y="604.5" width="12.3" height="11" fill="#000"/>
<text x="303.8" y="614" font-size="11.2" text-anchor="start" textLength="148" lengthAdjust="spacingAndGlyphs" class="lg">Prostratin Continious IL-2</text>
<line x1="265.5" y1="627" x2="296.8" y2="627" stroke="#000" stroke-width="2.6"/>
<rect x="275.9" y="622.5" width="11" height="9.3" fill="#fff" stroke="#000" stroke-width="1.5"/>
<text x="303.8" y="630.6" font-size="11.2" text-anchor="start" textLength="65.8" lengthAdjust="spacingAndGlyphs" class="lg">No Mitogen</text>
</svg>
</body></html>
